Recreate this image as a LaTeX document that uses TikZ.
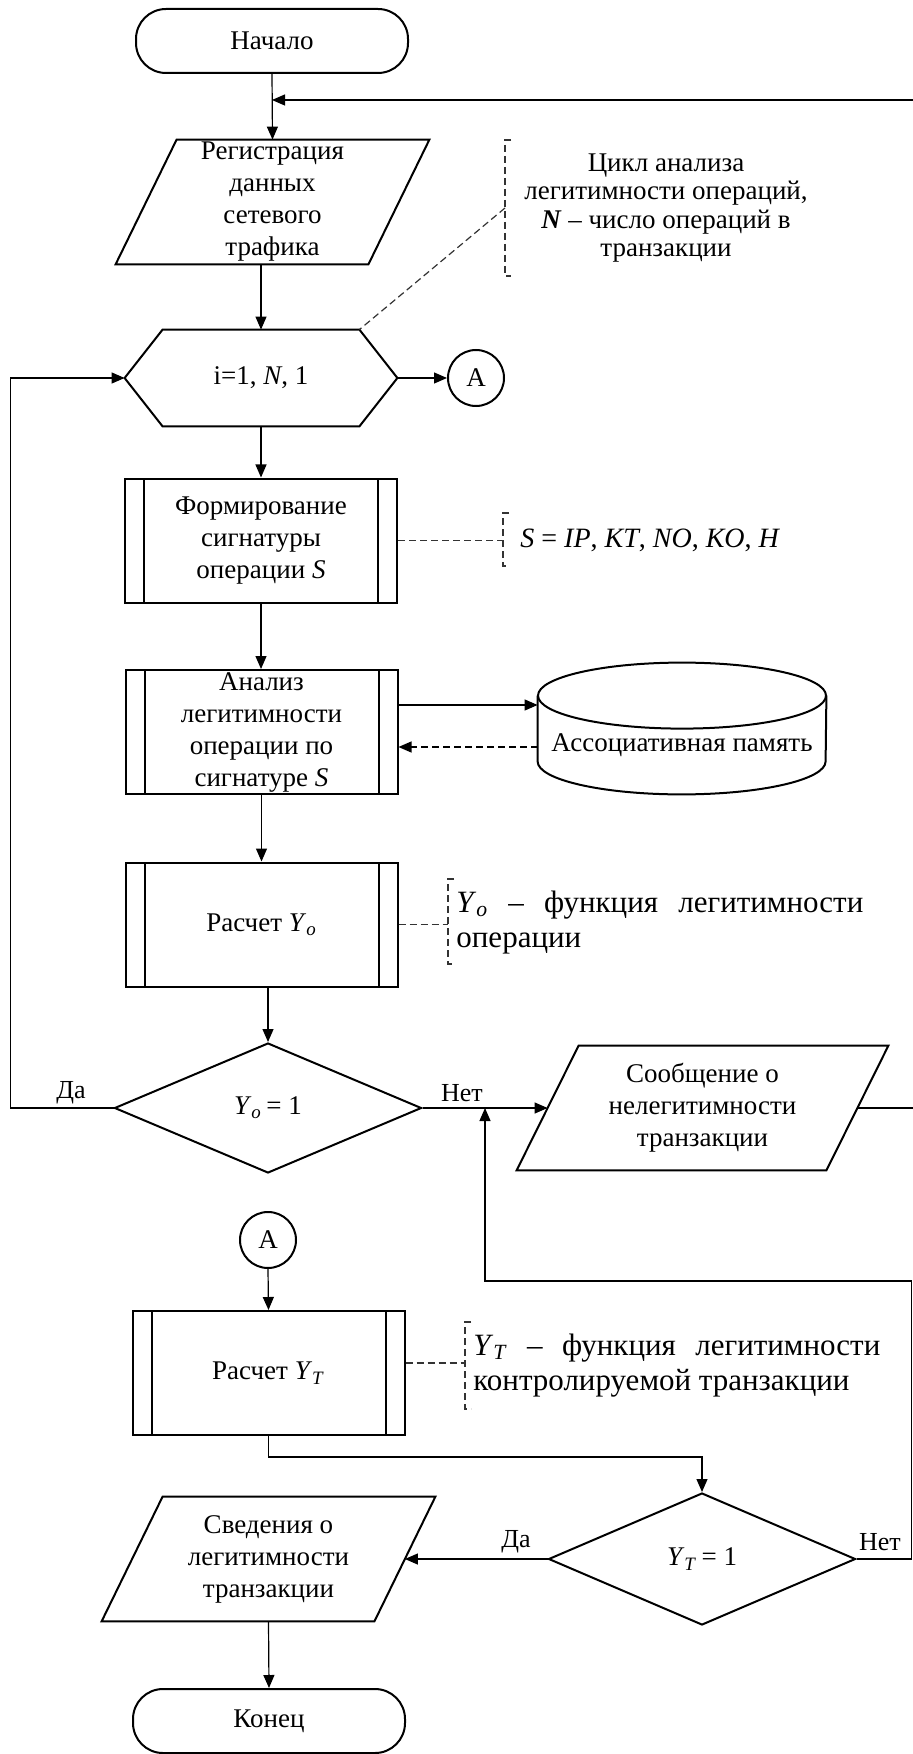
\documentclass[tikz,border=0pt]{standalone}
\usepackage{fontspec}
\setmainfont{Liberation Serif}
\usetikzlibrary{arrows.meta,shapes.geometric,calc}

\newcommand{\symYo}{\textit{Y}\textsubscript{\textit{o}}}
\newcommand{\symYT}{\textit{Y}\textsubscript{\textit{T}}}

\begin{document}
\begin{tikzpicture}[
  x=0.5pt, y=-0.5pt,
  outline/.style={draw=black, line width=1pt},
  boxfont/.style={font=\fontsize{13.5}{16}\selectfont},
  terminal/.style={outline, boxfont, rectangle, rounded corners=15pt,
    minimum width=136pt, minimum height=32pt, inner sep=0pt},
  procbox/.style={outline, boxfont, rectangle, minimum width=136pt,
    minimum height=62pt, inner sep=0pt, align=center,
    path picture={
      \draw[line width=1pt] ([xshift=9.5pt]path picture bounding box.north west)
        -- ([xshift=9.5pt]path picture bounding box.south west);
      \draw[line width=1pt] ([xshift=-9.5pt]path picture bounding box.north east)
        -- ([xshift=-9.5pt]path picture bounding box.south east);}},
  textarea/.style={boxfont, rectangle, inner sep=0pt, align=center},
  decision/.style={outline, boxfont, diamond, minimum width=153.5pt,
    minimum height=65pt, inner sep=0pt},
  pageref/.style={outline, boxfont, circle, minimum size=28pt, inner sep=0pt},
  flow/.style={draw=black, line width=0.6pt},
  arrow/.style={flow, -{Triangle[length=6.5pt,width=5.5pt]}},
  note/.style={draw=black!80, line width=0.6pt, dash pattern=on 3.5pt off 2pt},
  branch/.style={font=\fontsize{13}{15}\selectfont, inner sep=0pt},
  remark/.style={font=\fontsize{15.5}{17.5}\selectfont, anchor=west, align=left, inner sep=0pt},
]
\fill[white] (0,0) rectangle (912,1754);
\useasboundingbox (0,0) rectangle (912,1754);

% ---- blocks ----
\node[terminal] (start) at (272,41) {Начало};

\node[textarea, minimum width=156.5pt, minimum height=62pt] (reg) at (272.5,202)
  {Регистрация\\данных\\сетевого\\трафика};
\draw[outline] ($(reg.north west)+(61,0)$) -- (reg.north east)
  -- ($(reg.south east)-(61,0)$) -- (reg.south west) -- cycle;

\node[textarea, minimum width=136pt, minimum height=48pt] (loop) at (261,378)
  {i=1, \textit{N}, 1};
\draw[outline] (loop.west) -- ($(loop.north west)+(38,0)$)
  -- ($(loop.north east)-(38,0)$) -- (loop.east)
  -- ($(loop.south east)-(38,0)$) -- ($(loop.south west)+(38,0)$) -- cycle;

\node[pageref] (a1) at (476,378) {A};

\node[procbox] (form) at (261,540.5) {Формирование\\сигнатуры\\операции \textit{S}};
\node[procbox] (anl) at (261.5,732) {Анализ\\легитимности\\операции по\\сигнатуре \textit{S}};

% associative memory store
\node[textarea, minimum width=144pt, minimum height=49pt] (mem) at (682,745)
  {Ассоциативная память};
\draw[outline] (mem.north) ellipse [x radius=72pt, y radius=16.5pt];
\draw[outline] (mem.north west) -- ($(mem.south west)-(0,33)$)
  arc[start angle=180, end angle=360, x radius=72pt, y radius=16.5pt]
  -- (mem.north east);

\node[procbox] (ro) at (261.5,924.5) {Расчет \symYo};
\node[decision] (do) at (268,1108) {\symYo\,= 1};

\node[textarea, minimum width=185.5pt, minimum height=62pt] (msg) at (702.5,1108)
  {Сообщение о\\нелегитимности\\транзакции};
\draw[outline] ($(msg.north west)+(62,0)$) -- (msg.north east)
  -- ($(msg.south east)-(62,0)$) -- (msg.south west) -- cycle;

\node[pageref] (a2) at (268,1240) {A};
\node[procbox] (rt) at (268.5,1373) {Расчет \symYT};
\node[decision, minimum height=66pt] (dt) at (702,1559) {\symYT\,= 1};

\node[textarea, minimum width=166.5pt, minimum height=62pt] (info) at (268.5,1559)
  {Сведения о\\легитимности\\транзакции};
\draw[outline] ($(info.north west)+(61,0)$) -- (info.north east)
  -- ($(info.south east)-(61,0)$) -- (info.south west) -- cycle;

\node[terminal] (stop) at (269,1721) {Конец};

% ---- branch labels ----
\node[branch] (yes1) at (71,1093) {Да};
\node[branch] (no1) at (462,1093) {Нет};
\node[branch] (yes2) at (516,1542) {Да};
\node[branch] (no2) at (880,1542) {Нет};

% ---- flow lines ----
\coordinate (merge1) at ($(start.south)+(0,26)$);
\coordinate (merge2) at (485,1108);
\draw[arrow] (start.south) -- (reg.north);
\draw[arrow] (reg.south -| loop.north) -- (loop.north);
\draw[arrow] (loop.east) -- (a1.west);
\draw[arrow] (loop.south) -- (form.north);
\draw[arrow] (form.south) -- (form.south |- anl.north);
\draw[arrow] (anl.south) -- (anl.south |- ro.north);
\draw[arrow] (ro.south -| do.north) -- (do.north);
\draw[arrow] (do.west) -- ++(-103,0) |- (loop.west);
\draw[arrow] (do.east) -- ($(msg.west)+(31,0)$);
\draw[arrow] ($(msg.east)-(31,0)$) -- ++(90,0) |- (merge1);
\draw[arrow] ([yshift=13.5pt]anl.east) -- ([yshift=13.5pt]anl.east -| mem.west);
\draw[arrow, dash pattern=on 3.5pt off 2pt] ([yshift=-7.5pt]anl.east -| mem.west)
  -- ([yshift=-7.5pt]anl.east);
\draw[arrow] (a2.south) -- (rt.north);
\draw[arrow] (rt.south) -- ++(0,21) -| (dt.north);
\draw[arrow] (dt.west) -- ($(info.east)-(30.5,0)$);
\draw[arrow] (dt.east) -- ++(55,0) |- ($(merge2)+(0,173)$) -- (merge2);
\draw[arrow] (info.south) -- (stop.north);

% ---- comments ----
\node[font=\fontsize{13.5}{14.3}\selectfont, align=center, inner sep=0pt] (cyc) at (666,208)
  {Цикл анализа\\легитимности операций,\\\textbf{\textit{N}} – число операций в\\транзакции};
\draw[note] (511,140) -- (505,140) -- (505,276) -- (511,276);
\coordinate (bc) at (505,208);
\draw[note] (bc) -- ($(loop.north east)-(38,0)$);

\node[font=\fontsize{14}{16}\selectfont, anchor=west, inner sep=0pt] (sig) at (520,540)
  {\textit{S} = \textit{IP}, \textit{KT}, \textit{NO}, \textit{KO}, \textit{H}};
\draw[note] (509,513) -- (503,513) -- (503,566) -- (509,566);
\coordinate (bs) at (503,540);
\draw[note] (form.east) -- (form.east -| bs);

\node[remark] (fo) at (456,922.5)
  {\hbox to 203.5pt{\symYo\hfill–\hfill функция\hfill легитимности}\\операции};
\draw[note] (454,879) -- (448,879) -- (448,964) -- (454,964);
\coordinate (bo) at (448,923);
\draw[note] (ro.east) -- (ro.east -| bo);

\node[remark] (ft) at (473,1365.5)
  {\hbox to 203.5pt{\symYT\hfill–\hfill функция\hfill легитимности}\\контролируемой транзакции};
\draw[note] (471,1322) -- (465,1322) -- (465,1409) -- (471,1409);
\coordinate (bt) at (465,1363);
\draw[note] ([yshift=5pt]rt.east) -- ([yshift=5pt]rt.east -| bt);
\end{tikzpicture}
\end{document}
